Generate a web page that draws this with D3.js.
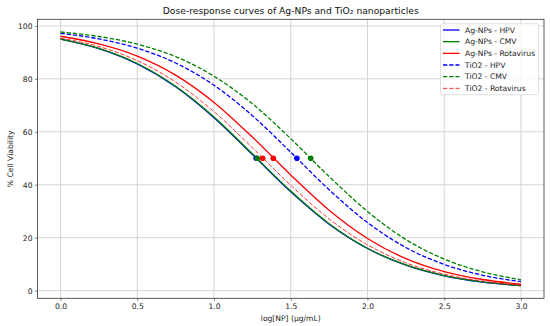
<!DOCTYPE html>
<html>
<head>
<meta charset="utf-8">
<script src="https://cdn.jsdelivr.net/npm/d3@7"></script>
<style>
  body { margin: 0; background: #fff; }
  svg { font-family: "DejaVu Sans", sans-serif; }
</style>
</head>
<body>
<div id="chart"></div>
<script>
// log dose sample points
const doses = [0, 0.25, 0.5, 0.75, 1.0, 1.25, 1.5, 1.75, 2.0, 2.25, 2.5, 2.75, 3.0];

// % viability
const agHpv   = [95.0, 91.4, 85.6, 77.0, 65.3, 51.4, 37.3, 25.1, 15.9, 9.6, 5.6, 3.2, 1.9];
const agCmv   = [95.0, 91.5, 85.8, 77.2, 65.6, 51.7, 37.6, 25.3, 16.0, 9.7, 5.7, 3.3, 1.9];
const agRota  = [96.1, 93.2, 88.6, 81.4, 71.1, 58.0, 43.7, 30.4, 19.7, 12.1, 7.2, 4.2, 2.4];
const tiHpv   = [97.2, 95.1, 91.6, 86.0, 77.6, 66.1, 52.3, 38.1, 25.7, 16.3, 9.9, 5.8, 3.4];
const tiCmv   = [97.7, 96.0, 93.1, 88.4, 81.0, 70.6, 57.4, 43.1, 29.9, 19.3, 11.9, 7.1, 4.1];
const tiRota  = [95.4, 92.2, 86.9, 78.8, 67.6, 54.0, 39.8, 27.1, 17.3, 10.5, 6.2, 3.6, 2.0];

// IC50 markers (log dose at 50%)
const ic50 = [1.275, 1.282, 1.386, 1.54, 1.63, 1.317];

const labels = ["Ag-NPs - HPV", "Ag-NPs - CMV", "Ag-NPs - Rotavirus",
                "TiO2 - HPV", "TiO2 - CMV", "TiO2 - Rotavirus"];
const colors = ["#0000ff", "#008000", "#ff0000", "#0000ff", "#008000", "#ff0000"];
const dashed = [false, false, false, true, true, true];
const values = [agHpv, agCmv, agRota, tiHpv, tiCmv, tiRota];

const xTicks = [0, 0.5, 1.0, 1.5, 2.0, 2.5, 3.0];
const yTicks = [0, 20, 40, 60, 80, 100];

const width = 550, height = 326;
const margin = { top: 19.3, right: 6, bottom: 27.7, left: 37.5 };
const innerW = width - margin.left - margin.right;
const innerH = height - margin.top - margin.bottom;

const svg = d3.select("#chart").append("svg")
  .attr("width", width)
  .attr("height", height);

const g = svg.append("g")
  .attr("transform", `translate(${margin.left},${margin.top})`);

const x = d3.scaleLinear().domain([-0.15, 3.15]).range([0, innerW]);
const y = d3.scaleLinear().domain([-2.9, 102.5]).range([innerH, 0]);

// grid
g.append("g").selectAll("line").data(xTicks).enter().append("line")
  .attr("x1", d => x(d)).attr("x2", d => x(d))
  .attr("y1", 0).attr("y2", innerH)
  .attr("stroke", "#d0d0d0").attr("stroke-width", 0.9);
g.append("g").selectAll("line").data(yTicks).enter().append("line")
  .attr("y1", d => y(d)).attr("y2", d => y(d))
  .attr("x1", 0).attr("x2", innerW)
  .attr("stroke", "#d0d0d0").attr("stroke-width", 0.9);

// curves
const line = d3.line()
  .x((d, i) => x(doses[i]))
  .y(d => y(d))
  .curve(d3.curveMonotoneX);

values.forEach((vals, k) => {
  g.append("path")
    .datum(vals)
    .attr("d", line)
    .attr("fill", "none")
    .attr("stroke", colors[k])
    .attr("stroke-width", k === 5 ? 1.0 : 1.3)
    .attr("stroke-opacity", k === 5 ? 0.8 : 1)
    .attr("stroke-dasharray", dashed[k] ? "4.3,1.9" : null);
});

// IC50 points
g.append("g").selectAll("circle").data(ic50).enter().append("circle")
  .attr("cx", d => x(d))
  .attr("cy", y(50))
  .attr("r", 2.8)
  .attr("fill", (d, i) => colors[i]);

// axes
const xAxis = d3.axisBottom(x).tickValues(xTicks).tickFormat(d3.format(".1f"))
  .tickSize(2.5).tickPadding(2.5);
const yAxis = d3.axisLeft(y).tickValues(yTicks).tickSize(2.5).tickPadding(2.5);

const gx = g.append("g").attr("transform", `translate(0,${innerH})`).call(xAxis);
const gy = g.append("g").call(yAxis);
[gx, gy].forEach(a => {
  a.select(".domain").remove();
  a.selectAll("line").attr("stroke", "#333").attr("stroke-width", 0.6);
  a.selectAll("text").attr("fill", "#222").style("font-size", "7.6px")
    .style("font-family", "DejaVu Sans, sans-serif");
});

// frame
g.append("rect")
  .attr("width", innerW).attr("height", innerH)
  .attr("fill", "none").attr("stroke", "#333").attr("stroke-width", 0.8);

// title and labels
svg.append("text")
  .attr("x", margin.left + innerW / 2).attr("y", 14)
  .attr("text-anchor", "middle")
  .style("font-size", "9.2px").attr("fill", "#111")
  .text("Dose-response curves of Ag-NPs and TiO\u2082 nanoparticles");

svg.append("text")
  .attr("x", margin.left + innerW / 2).attr("y", 321)
  .attr("text-anchor", "middle")
  .style("font-size", "7.6px").attr("fill", "#222")
  .text("log[NP] (\u03bcg/mL)");

svg.append("text")
  .attr("transform", `translate(12.8,${margin.top + innerH / 2}) rotate(-90)`)
  .attr("text-anchor", "middle")
  .style("font-size", "7.6px").attr("fill", "#222")
  .text("% Cell Viability");

// legend
const lg = svg.append("g").attr("transform", "translate(440.5,23.7)");
lg.append("rect")
  .attr("width", 98).attr("height", 71)
  .attr("rx", 2)
  .attr("fill", "#fff").attr("fill-opacity", 0.8)
  .attr("stroke", "#d8d8d8").attr("stroke-width", 0.8);

labels.forEach((lab, k) => {
  const yy = 6.3 + k * 11.67;
  lg.append("line")
    .attr("x1", 2.5).attr("x2", 19)
    .attr("y1", yy).attr("y2", yy)
    .attr("stroke", colors[k])
    .attr("stroke-width", k === 5 ? 1.0 : 1.3)
    .attr("stroke-opacity", k === 5 ? 0.8 : 1)
    .attr("stroke-dasharray", dashed[k] ? "4.3,1.9" : null);
  lg.append("text")
    .attr("x", 24.5).attr("y", yy + 2.7)
    .style("font-size", "7.6px").attr("fill", "#222")
    .text(lab);
});
</script>
</body>
</html>
